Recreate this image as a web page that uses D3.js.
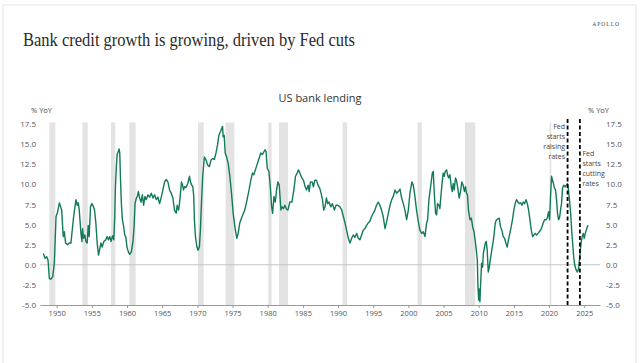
<!DOCTYPE html>
<html>
<head>
<meta charset="UTF-8">
<title>US bank lending</title>
<script src="https://cdn.jsdelivr.net/npm/d3@7"></script>
<style>
  body { margin: 0; background: #fff; }
  svg { display: block; }
</style>
</head>
<body>
<script>
// US bank lending, % YoY
var lending = [
  [1948.11,1.4],[1948.35,0.8],[1948.58,1.0],[1948.77,0.6],[1948.96,-1.7],[1949.15,-1.8],[1949.43,-1.5],[1949.67,0.2],
  [1949.91,6.0],[1950.09,6.4],[1950.38,7.7],[1950.57,7.2],[1950.71,6.8],[1950.85,4.7],[1950.94,3.5],[1951.09,4.1],
  [1951.27,2.7],[1951.56,2.5],[1951.79,2.7],[1952.03,2.7],[1952.36,5.6],[1952.60,7.2],[1952.74,8.1],[1952.93,7.4],
  [1953.07,7.7],[1953.21,6.8],[1953.45,3.9],[1953.59,2.9],[1953.68,4.5],[1953.82,3.3],[1954.01,3.7],[1954.15,2.9],
  [1954.34,2.7],[1954.48,4.9],[1954.62,3.5],[1954.81,7.2],[1955.00,7.6],[1955.19,7.3],[1955.38,6.8],[1955.57,5.2],
  [1955.76,2.7],[1955.95,1.2],[1956.09,1.8],[1956.28,2.7],[1956.47,2.2],[1956.70,2.9],[1956.98,3.1],[1957.17,3.5],
  [1957.36,3.1],[1957.55,3.5],[1957.74,2.9],[1957.93,3.6],[1958.12,3.1],[1958.26,6.0],[1958.35,9.7],[1958.49,12.2],
  [1958.59,13.7],[1958.78,14.1],[1958.87,14.4],[1958.97,13.9],[1959.06,11.0],[1959.20,7.6],[1959.34,5.6],[1959.53,4.7],
  [1959.67,3.7],[1959.82,3.5],[1960.00,2.2],[1960.19,1.6],[1960.38,1.3],[1960.62,1.6],[1960.85,2.9],[1961.00,4.7],
  [1961.14,7.6],[1961.33,8.3],[1961.47,8.5],[1961.61,9.1],[1961.80,8.3],[1961.99,7.8],[1962.18,8.7],[1962.36,7.4],
  [1962.55,8.5],[1962.74,8.1],[1962.98,8.7],[1963.21,8.4],[1963.45,8.9],[1963.69,8.3],[1963.92,8.7],[1964.16,8.1],
  [1964.39,8.4],[1964.63,7.6],[1964.87,8.4],[1965.10,9.3],[1965.34,10.3],[1965.57,10.6],[1965.81,10.3],[1966.05,9.3],
  [1966.28,8.9],[1966.52,8.3],[1966.75,6.8],[1966.99,6.4],[1967.13,7.4],[1967.32,6.8],[1967.46,7.6],[1967.60,8.9],
  [1967.74,10.3],[1967.89,9.9],[1968.03,9.3],[1968.17,9.7],[1968.40,9.6],[1968.64,10.1],[1968.88,11.0],[1969.02,10.3],
  [1969.21,9.9],[1969.35,9.7],[1969.49,8.5],[1969.58,5.6],[1969.73,3.5],[1969.92,2.3],[1970.10,1.8],[1970.29,2.2],
  [1970.43,4.3],[1970.58,7.6],[1970.76,11.0],[1971.00,13.4],[1971.24,13.0],[1971.47,12.4],[1971.71,12.2],[1971.94,13.0],
  [1972.18,13.2],[1972.42,13.1],[1972.65,13.9],
  [1972.87,14.9],[1973.06,16.1],[1973.30,16.6],[1973.48,17.0],[1973.58,17.2],[1973.67,15.9],[1973.81,16.1],[1973.96,13.9],
  [1974.15,13.4],[1974.38,12.6],[1974.62,11.0],[1974.85,8.9],[1975.09,6.4],[1975.37,4.5],[1975.61,3.3],[1975.80,3.9],
  [1976.03,5.2],[1976.36,6.0],[1976.74,6.8],[1977.07,8.1],[1977.35,9.3],[1977.59,10.5],[1977.83,11.4],[1978.02,11.2],
  [1978.25,11.8],[1978.53,12.6],[1978.77,13.2],[1979.01,13.9],[1979.24,13.7],[1979.62,14.3],[1979.76,14.1],[1979.94,12.0],
  [1980.18,11.6],[1980.37,9.7],[1980.56,7.2],[1980.70,6.4],[1980.89,8.5],[1981.08,7.8],[1981.26,9.3],[1981.45,10.3],
  [1981.64,9.9],[1981.88,6.8],[1982.07,7.2],[1982.26,7.0],[1982.44,7.4],[1982.68,6.9],[1982.87,6.8],[1983.15,7.8],
  [1983.44,7.8],[1983.72,9.3],[1983.95,11.0],[1984.19,11.4],[1984.38,11.8],[1984.57,11.4],[1984.85,10.8],[1985.09,10.5],
  [1985.32,9.7],[1985.51,9.3],[1985.75,9.9],[1985.89,9.1],[1986.08,10.3],[1986.31,10.3],[1986.50,9.7],[1986.69,10.5],
  [1986.93,10.5],[1987.16,9.9],[1987.40,9.5],[1987.59,8.9],[1987.78,8.1],[1987.97,6.8],[1988.15,7.2],[1988.34,8.3],
  [1988.53,7.6],[1988.72,7.8],[1988.96,7.2],[1989.19,7.6],[1989.48,6.8],[1989.71,7.4],[1989.95,7.4],[1990.28,7.2],
  [1990.52,6.8],[1990.75,6.0],[1990.99,5.2],[1991.22,4.3],[1991.46,3.3],[1991.70,2.7],[1991.93,3.3],[1992.17,3.7],
  [1992.40,3.4],[1992.64,3.9],[1992.88,3.3],[1993.11,3.1],[1993.35,3.7],[1993.58,4.3],[1993.82,4.5],[1994.06,4.9],
  [1994.29,5.2],[1994.53,5.4],[1994.76,6.0],[1995.00,6.4],[1995.24,6.8],[1995.47,7.4],[1995.71,7.8],[1995.94,7.4],
  [1996.18,6.8],[1996.42,6.0],[1996.68,4.5],[1996.92,5.4],[1997.15,6.4],[1997.39,7.4],[1997.63,8.1],[1997.86,8.5],
  [1998.10,9.3],[1998.33,8.9],[1998.57,9.1],[1998.81,9.4],[1999.04,8.3],[1999.28,7.6],[1999.51,6.8],[1999.75,5.6],
  [1999.99,6.8],[2000.22,8.9],[2000.50,10.3],[2000.69,9.9],[2000.93,8.5],[2001.16,6.8],[2001.40,5.4],[2001.64,4.3],
  [2001.89,3.9],[2002.12,4.1],[2002.36,3.5],[2002.59,5.2],[2002.74,5.6],[2002.92,8.1],[2003.16,9.7],[2003.40,11.4],
  [2003.54,11.6],[2003.68,8.9],[2003.87,6.4],[2004.01,6.2],[2004.15,7.6],[2004.34,7.4],[2004.48,7.0],[2004.62,8.5],
  [2004.81,10.3],[2004.95,11.4],[2005.10,11.0],[2005.24,11.6],[2005.43,11.8],[2005.57,11.2],[2005.71,10.8],[2005.90,11.2],
  [2006.09,9.7],[2006.23,9.1],[2006.37,10.1],[2006.51,9.3],[2006.70,10.8],[2006.84,10.5],[2007.03,9.5],[2007.22,8.3],
  [2007.41,9.1],[2007.60,10.3],[2007.78,9.9],[2007.97,9.1],[2008.12,9.7],[2008.26,8.9],[2008.40,8.7],[2008.54,6.8],
  [2008.76,5.6],[2008.95,5.8],[2009.14,4.7],[2009.33,4.1],[2009.51,2.9],[2009.66,1.8],[2009.80,0.6],[2009.89,-2.7],
  [2009.99,-4.4],[2010.08,-3.0],[2010.17,-4.6],[2010.27,-2.3],[2010.41,0.2],[2010.55,-0.3],[2010.65,1.4],[2010.79,2.0],
  [2010.93,2.7],[2011.07,2.9],[2011.21,1.8],[2011.35,-0.9],[2011.50,-0.3],[2011.64,0.6],[2011.78,1.4],[2011.92,2.2],
  [2012.06,2.9],[2012.20,3.9],[2012.35,5.2],[2012.53,5.6],[2012.72,5.7],[2012.91,5.8],[2013.10,4.7],[2013.29,4.3],
  [2013.48,3.5],[2013.67,3.3],[2013.86,2.7],[2014.04,2.2],[2014.23,3.1],[2014.42,3.9],[2014.61,4.7],[2014.80,5.6],
  [2014.99,6.8],[2015.18,7.6],[2015.37,8.1],[2015.55,7.8],[2015.74,7.6],[2015.96,7.7],[2016.15,7.4],[2016.34,7.8],
  [2016.53,7.6],[2016.72,8.1],[2016.91,7.6],[2017.09,6.8],[2017.28,5.6],[2017.47,4.3],[2017.66,3.5],[2017.85,3.7],
  [2018.04,3.9],[2018.23,3.7],[2018.42,3.9],[2018.60,4.1],[2018.79,4.3],[2018.98,4.7],[2019.17,5.2],[2019.36,5.6],
  [2019.55,5.6],[2019.74,5.8],[2019.93,6.6],[2020.07,5.6],[2020.21,8.5],[2020.35,11.0],[2020.49,10.5],[2020.63,10.1],
  [2020.78,9.5],[2020.92,9.3],[2021.06,8.1],[2021.20,6.4],[2021.34,5.6],[2021.48,5.8],[2021.63,6.8],[2021.77,7.6],
  [2021.91,9.5],[2022.10,9.9],[2022.29,9.7],[2022.47,9.9],[2022.62,10.1],[2022.76,9.3],[2022.93,7.8],[2023.07,6.4],
  [2023.21,4.3],[2023.35,2.7],[2023.50,1.0],[2023.64,0.0],[2023.83,-0.6],[2024.01,-0.9],[2024.16,-0.6],[2024.30,0.4],
  [2024.44,1.8],[2024.58,2.9],[2024.72,3.5],[2024.86,3.9],[2025.01,3.3],[2025.15,3.9],[2025.29,4.3],[2025.43,4.7],
  [2025.57,4.9]
];

// recessions (shaded), start / end
var recessions = [
  [1948.96,1949.81],[1953.65,1954.41],[1957.73,1958.34],[1960.33,1961.23],[1970.09,1970.90],
  [1974.02,1975.25],[1980.08,1980.56],[1981.60,1982.88],[1990.65,1991.27],[2001.30,2001.90],
  [2008.04,2009.51],[2020.07,2020.31]
];

var fedEvents = [
  { year: 2022.63, label: ["Fed", "starts", "raising", "rates"], side: "left", first: 129 },
  { year: 2024.38, label: ["Fed", "starts", "cutting", "rates"], side: "right", first: 156 }
];

var yTicks = [-5, -2.5, 0, 2.5, 5, 7.5, 10, 12.5, 15, 17.5];
var xTicks = [1950, 1955, 1960, 1965, 1970, 1975, 1980, 1985, 1990, 1995, 2000, 2005, 2010, 2015, 2020, 2025];

var W = 644, H = 363;
var plotLeft = 40, plotRight = 600, plotTop = 124, plotBottom = 305;

var svg = d3.select("body").append("svg")
    .attr("width", W)
    .attr("height", H);

// card frame
svg.append("rect")
    .attr("x", 3).attr("y", 5)
    .attr("width", 633).attr("height", 380)
    .attr("fill", "#fff")
    .attr("stroke", "#e4e4e4");

svg.append("text")
    .attr("x", 23).attr("y", 46)
    .attr("font-family", "Liberation Serif, serif")
    .attr("font-size", 19)
    .attr("fill", "#2a2a2a")
    .attr("textLength", 332)
    .attr("lengthAdjust", "spacingAndGlyphs")
    .text("Bank credit growth is growing, driven by Fed cuts");

svg.append("text")
    .attr("x", 620).attr("y", 26)
    .attr("text-anchor", "end")
    .attr("font-family", "Liberation Serif, serif")
    .attr("font-size", 5.5)
    .attr("letter-spacing", 1)
    .attr("fill", "#444")
    .text("APOLLO");

svg.append("text")
    .attr("x", 320).attr("y", 102)
    .attr("text-anchor", "middle")
    .attr("font-family", "Open Sans, sans-serif")
    .attr("font-size", 11)
    .attr("fill", "#333")
    .text("US bank lending");

var x = d3.scaleLinear().domain([1947.63, 2027.24]).range([plotLeft, plotRight]);
var y = d3.scaleLinear().domain([-5, 17.5]).range([plotBottom, plotTop]);

// recession bars
svg.append("g").selectAll("rect")
    .data(recessions)
    .enter()
    .append("rect")
    .attr("x", function (d) { return x(d[0]); })
    .attr("width", function (d) { return Math.max(1.2, x(d[1]) - x(d[0])); })
    .attr("y", y(17.7))
    .attr("height", y(-5) - y(17.7))
    .attr("fill", "#e3e3e3");

// zero line
svg.append("line")
    .attr("x1", plotLeft).attr("x2", plotRight)
    .attr("y1", y(0)).attr("y2", y(0))
    .attr("stroke", "#c4c4c4")
    .attr("stroke-width", 1);

var fmt = function (d) { return d.toFixed(1); };

var yLeft = svg.append("g")
    .attr("transform", "translate(" + (plotLeft - 1) + ",0)")
    .call(d3.axisLeft(y).tickValues(yTicks).tickSize(0).tickPadding(3).tickFormat(fmt));
var yRight = svg.append("g")
    .attr("transform", "translate(" + (plotRight + 3) + ",0)")
    .call(d3.axisRight(y).tickValues(yTicks).tickSize(0).tickPadding(3).tickFormat(fmt));
[yLeft, yRight].forEach(function (g) {
    g.select(".domain").remove();
    g.selectAll("text")
        .attr("font-family", "Open Sans, sans-serif")
        .attr("font-size", 8)
        .attr("fill", "#555");
});

var xAxis = svg.append("g")
    .attr("transform", "translate(0," + plotBottom + ")")
    .call(d3.axisBottom(x).tickValues(xTicks).tickSize(3).tickSizeOuter(0).tickPadding(3)
        .tickFormat(d3.format("d")));
xAxis.select(".domain").attr("stroke", "#9a9a9a");
xAxis.selectAll(".tick line").attr("stroke", "#9a9a9a");
xAxis.selectAll("text")
    .attr("font-family", "Open Sans, sans-serif")
    .attr("font-size", 7.5)
    .attr("fill", "#555");

svg.append("text")
    .attr("x", 31).attr("y", 113)
    .attr("font-family", "Open Sans, sans-serif")
    .attr("font-size", 7.5)
    .attr("fill", "#444")
    .text("% YoY");
svg.append("text")
    .attr("x", 588).attr("y", 113)
    .attr("font-family", "Open Sans, sans-serif")
    .attr("font-size", 7.5)
    .attr("fill", "#444")
    .text("% YoY");

// the series
var line = d3.line()
    .x(function (d) { return x(d[0]); })
    .y(function (d) { return y(d[1]); });

svg.append("path")
    .datum(lending)
    .attr("d", line)
    .attr("fill", "none")
    .attr("stroke", "#127a5a")
    .attr("stroke-width", 1.4)
    .attr("stroke-linejoin", "round");

// Fed markers
fedEvents.forEach(function (e) {
    svg.append("line")
        .attr("x1", x(e.year)).attr("x2", x(e.year))
        .attr("y1", 119).attr("y2", plotBottom)
        .attr("stroke", "#000")
        .attr("stroke-width", 1.8)
        .attr("stroke-dasharray", "4,2.5");

    var t = svg.append("text")
        .attr("font-family", "Liberation Sans Narrow, Open Sans, sans-serif")
        .attr("font-size", 7)
        .attr("fill", "#444")
        .attr("text-anchor", e.side == "left" ? "end" : "start");
    e.label.forEach(function (s, i) {
        t.append("tspan")
            .attr("x", e.side == "left" ? x(e.year) - 2.5 : x(e.year) + 2.5)
            .attr("y", e.first + i * 10)
            .text(s);
    });
});
</script>
</body>
</html>
